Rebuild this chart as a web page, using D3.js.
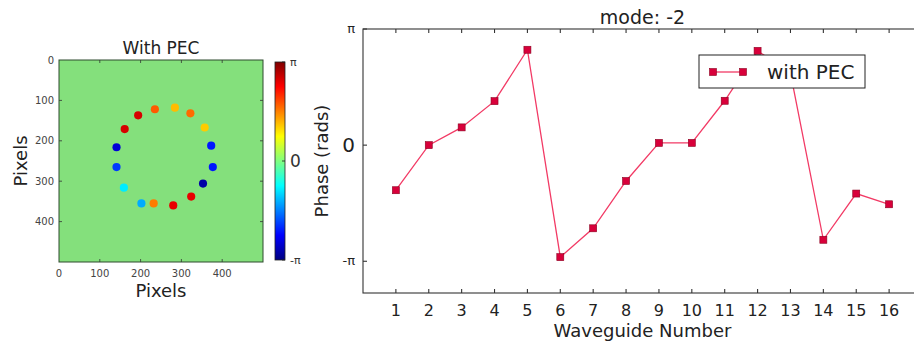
<!DOCTYPE html>
<html>
<head>
<meta charset="utf-8">
<script src="https://cdn.jsdelivr.net/npm/d3@7"></script>
<style>
  body { margin: 0; background: #fff; }
  svg { display: block; font-family: "DejaVu Sans", sans-serif; }
</style>
</head>
<body>
<svg id="chart" width="914" height="344"></svg>
<script>
// ---- data ----
const waveguides = [1, 2, 3, 4, 5, 6, 7, 8, 9, 10, 11, 12, 13, 14, 15, 16];
const phaseWithPec = [-1.22, 0.0, 0.48, 1.19, 2.58, -3.03, -2.25, -0.97, 0.06, 0.06, 1.20, 2.55, 1.95, -2.56, -1.31, -1.60];

// bright spots in the phase map (image pixel coords) and their phase
const spotX = [194, 161, 141, 141, 159, 202, 232, 280, 324, 353, 377, 373, 357, 322, 284, 235];
const spotY = [137, 171, 216, 265, 316, 355, 355, 360, 338, 306, 265, 212, 167, 132, 118, 122];
const spotPhase = [2.6, 2.6, -2.6, -2.0, -0.9, -1.3, 1.6, 2.5, 2.5, -2.9, -2.2, -2.2, 1.1, 1.7, 1.2, 1.8];

const pixelTicks = [0, 100, 200, 300, 400];
const phaseTicks = [-Math.PI, 0, Math.PI];
const phaseTickLabels = ["-π", "0", "π"];

const PI = Math.PI;
const svg = d3.select("#chart");

// matplotlib "jet"
const jet = d3.scaleLinear()
    .domain([0, 0.125, 0.375, 0.625, 0.875, 1])
    .range(["#00007f", "#0000ff", "#00ffff", "#ffff00", "#ff0000", "#7f0000"])
    .clamp(true);
const phaseColor = p => jet((p + PI) / (2 * PI));

function inwardTicks(g, scale, ticks, orient, len, extent) {
    // draws ticks pointing into the frame
    ticks.forEach(t => {
        const v = scale(t);
        if (orient === "bottom") g.append("line").attr("x1", v).attr("x2", v).attr("y1", extent).attr("y2", extent - len);
        if (orient === "top") g.append("line").attr("x1", v).attr("x2", v).attr("y1", extent).attr("y2", extent + len);
        if (orient === "left") g.append("line").attr("y1", v).attr("y2", v).attr("x1", extent).attr("x2", extent + len);
        if (orient === "right") g.append("line").attr("y1", v).attr("y2", v).attr("x1", extent).attr("x2", extent - len);
    });
}

// ================= left panel: phase map =================
const img = { left: 59, right: 263, top: 60, bottom: 262 };
const px = d3.scaleLinear().domain([0, 500]).range([img.left, img.right]);
const py = d3.scaleLinear().domain([0, 500]).range([img.top, img.bottom]);

const defs = svg.append("defs");
defs.append("clipPath").attr("id", "imgClip")
    .append("rect")
    .attr("x", img.left).attr("y", img.top)
    .attr("width", img.right - img.left).attr("height", img.bottom - img.top);
defs.append("filter").attr("id", "soft")
    .append("feGaussianBlur").attr("stdDeviation", 0.7);

const mapG = svg.append("g").attr("clip-path", "url(#imgClip)");
mapG.append("rect")
    .attr("x", img.left).attr("y", img.top)
    .attr("width", img.right - img.left).attr("height", img.bottom - img.top)
    .attr("fill", "#84e07c");

mapG.append("g").attr("filter", "url(#soft)")
    .selectAll("circle")
    .data(spotX.map((x, i) => ({ x: x, y: spotY[i], p: spotPhase[i] })))
    .enter().append("circle")
    .attr("cx", d => px(d.x))
    .attr("cy", d => py(d.y))
    .attr("r", px(10) - px(0))
    .attr("fill", d => phaseColor(d.p));

const mapAxes = svg.append("g").attr("stroke", "#333").attr("stroke-width", 0.8);
inwardTicks(mapAxes, px, pixelTicks.slice(1), "bottom", 3, img.bottom);
inwardTicks(mapAxes, px, pixelTicks.slice(1), "top", 3, img.top);
inwardTicks(mapAxes, py, pixelTicks.slice(1), "left", 3, img.left);
inwardTicks(mapAxes, py, pixelTicks.slice(1), "right", 3, img.right);
svg.append("rect")
    .attr("x", img.left).attr("y", img.top)
    .attr("width", img.right - img.left).attr("height", img.bottom - img.top)
    .attr("fill", "none").attr("stroke", "#2f4a2f").attr("stroke-width", 1);

svg.append("g").selectAll("text").data(pixelTicks).enter().append("text")
    .attr("x", d => px(d)).attr("y", img.bottom + 15)
    .attr("text-anchor", "middle").attr("font-size", 10).attr("fill", "#444")
    .text(d => d);
svg.append("g").selectAll("text").data(pixelTicks).enter().append("text")
    .attr("x", img.left - 5).attr("y", d => py(d) + 3.5)
    .attr("text-anchor", "end").attr("font-size", 10).attr("fill", "#444")
    .text(d => d);

svg.append("text").attr("x", (img.left + img.right) / 2).attr("y", 54)
    .attr("text-anchor", "middle").attr("font-size", 17).attr("fill", "#222")
    .text("With PEC");
svg.append("text").attr("x", (img.left + img.right) / 2).attr("y", 297)
    .attr("text-anchor", "middle").attr("font-size", 18).attr("fill", "#222")
    .text("Pixels");
svg.append("text")
    .attr("transform", `translate(27,${(img.top + img.bottom) / 2}) rotate(-90)`)
    .attr("text-anchor", "middle").attr("font-size", 18).attr("fill", "#222")
    .text("Pixels");

// colorbar
const cb = { left: 275, right: 285, top: 62, bottom: 260 };
const cbScale = d3.scaleLinear().domain([-PI, PI]).range([cb.bottom, cb.top]);
const grad = defs.append("linearGradient").attr("id", "jetGrad")
    .attr("x1", 0).attr("y1", 1).attr("x2", 0).attr("y2", 0);
grad.selectAll("stop").data(d3.range(0, 1.0001, 0.0625)).enter().append("stop")
    .attr("offset", d => d)
    .attr("stop-color", d => jet(d));
svg.append("rect")
    .attr("x", cb.left).attr("y", cb.top)
    .attr("width", cb.right - cb.left).attr("height", cb.bottom - cb.top)
    .attr("fill", "url(#jetGrad)").attr("stroke", "#222").attr("stroke-width", 0.8);
const cbTicks = svg.append("g").attr("stroke", "#222").attr("stroke-width", 0.8);
inwardTicks(cbTicks, cbScale, phaseTicks, "right", 3, cb.right);
svg.append("g").selectAll("text").data(phaseTicks).enter().append("text")
    .attr("x", cb.right + 5)
    .attr("y", d => cbScale(d) + (d === 0 ? 6 : 4))
    .attr("font-size", (d, i) => d === 0 ? 17 : 11)
    .attr("fill", "#333")
    .text((d, i) => phaseTickLabels[i]);

// ================= right panel: phase per waveguide =================
const plot = { left: 363, right: 922, top: 29, bottom: 293 };
const x = d3.scaleLinear().domain([0, 17]).range([plot.left, plot.right]);
const y = d3.scaleLinear().domain([-4, PI]).range([plot.bottom, plot.top]);

const frame = svg.append("g").attr("stroke", "#333").attr("stroke-width", 1.1);
inwardTicks(frame, x, waveguides, "bottom", 4, plot.bottom);
inwardTicks(frame, x, waveguides, "top", 4, plot.top);
inwardTicks(frame, y, phaseTicks, "left", 4, plot.left);
svg.append("rect")
    .attr("x", plot.left).attr("y", plot.top)
    .attr("width", plot.right - plot.left).attr("height", plot.bottom - plot.top)
    .attr("fill", "none").attr("stroke", "#333").attr("stroke-width", 1.1);

svg.append("g").selectAll("text").data(waveguides).enter().append("text")
    .attr("x", d => x(d)).attr("y", plot.bottom + 23)
    .attr("text-anchor", "middle").attr("font-size", 16).attr("fill", "#222")
    .text(d => d);
svg.append("g").selectAll("text").data(phaseTicks).enter().append("text")
    .attr("x", plot.left - 8)
    .attr("y", d => y(d) + (d === 0 ? 7 : 4))
    .attr("text-anchor", "end")
    .attr("font-size", d => d === 0 ? 20 : 13)
    .attr("fill", "#222")
    .text((d, i) => phaseTickLabels[i]);

svg.append("text").attr("x", (plot.left + plot.right) / 2).attr("y", 24)
    .attr("text-anchor", "middle").attr("font-size", 19).attr("fill", "#222")
    .text("mode: -2");
svg.append("text").attr("x", (plot.left + plot.right) / 2).attr("y", 337)
    .attr("text-anchor", "middle").attr("font-size", 18).attr("fill", "#222")
    .text("Waveguide Number");
svg.append("text")
    .attr("transform", `translate(328,${(plot.top + plot.bottom) / 2}) rotate(-90)`)
    .attr("text-anchor", "middle").attr("font-size", 18).attr("fill", "#222")
    .text("Phase (rads)");

const lineColor = "#f23a65";
const markFill = "#d8003a";
const markStroke = "#8b0020";
const series = waveguides.map((w, i) => ({ w: w, v: phaseWithPec[i] }));

svg.append("path")
    .datum(series)
    .attr("fill", "none")
    .attr("stroke", lineColor)
    .attr("stroke-width", 1.3)
    .attr("d", d3.line().x(d => x(d.w)).y(d => y(d.v)));

const ms = 7;
svg.append("g").selectAll("rect").data(series).enter().append("rect")
    .attr("x", d => x(d.w) - ms / 2).attr("y", d => y(d.v) - ms / 2)
    .attr("width", ms).attr("height", ms)
    .attr("fill", markFill).attr("stroke", markStroke).attr("stroke-width", 0.6);

// legend
const lg = svg.append("g").attr("transform", "translate(699,55)");
lg.append("rect").attr("width", 166).attr("height", 33)
    .attr("fill", "#fff").attr("stroke", "#222").attr("stroke-width", 1);
lg.append("line").attr("x1", 14).attr("x2", 44).attr("y1", 17).attr("y2", 17)
    .attr("stroke", lineColor).attr("stroke-width", 1.3);
[14, 44].forEach(cx => {
    lg.append("rect").attr("x", cx - ms / 2).attr("y", 17 - ms / 2)
        .attr("width", ms).attr("height", ms)
        .attr("fill", markFill).attr("stroke", markStroke).attr("stroke-width", 0.6);
});
lg.append("text").attr("x", 68).attr("y", 24)
    .attr("font-size", 20).attr("fill", "#222")
    .text("with PEC");
</script>
</body>
</html>
